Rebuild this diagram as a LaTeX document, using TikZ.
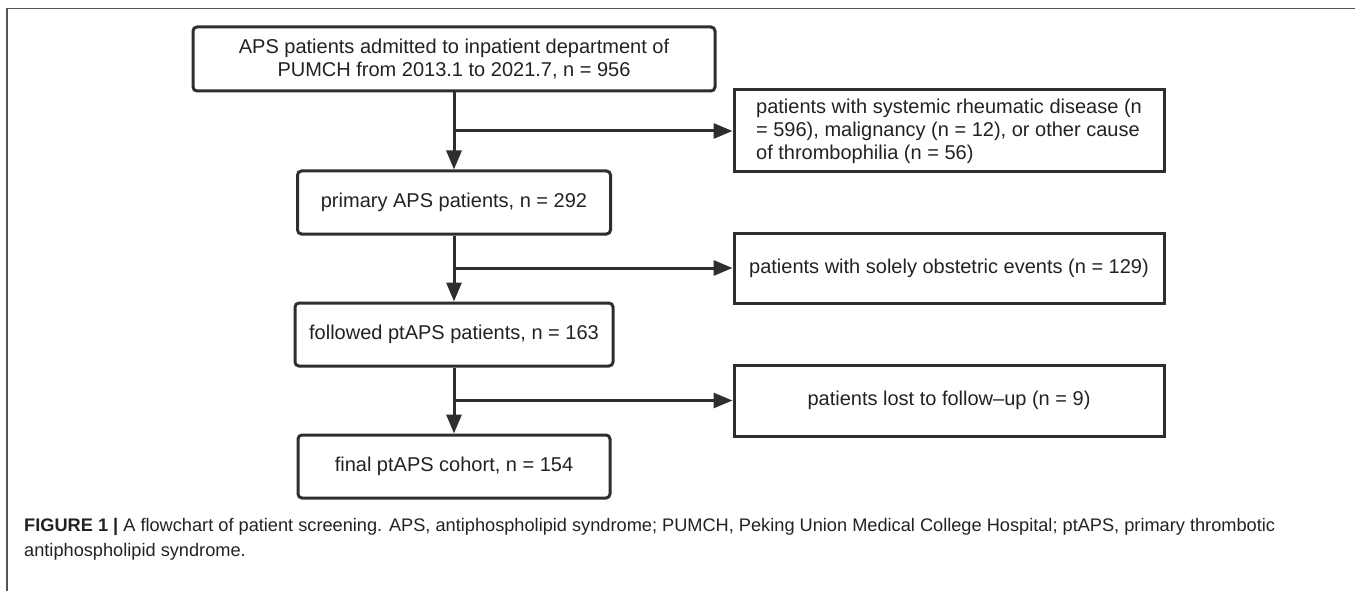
\documentclass[tikz,border=0pt]{standalone}
\usepackage{fontspec}
\setmainfont{Liberation Sans}
\usetikzlibrary{arrows.meta}
\definecolor{boxline}{HTML}{2E2E2E}
\definecolor{boxtext}{HTML}{222222}
\definecolor{framecol}{HTML}{555555}
\tikzset{
  leftbox/.style={draw=boxline, line width=3pt, rounded corners=4pt, minimum height=63pt,
    align=center, text=boxtext, font=\fontsize{20}{23}\selectfont, inner sep=0pt},
  rightbox/.style={draw=boxline, line width=3pt, minimum width=430pt,
    text=boxtext, font=\fontsize{20}{23}\selectfont, inner sep=0pt},
  flowarrow/.style={draw=boxline, line width=3pt, -{Triangle[length=19pt,width=15pt]}},
}
\begin{document}
\begin{tikzpicture}[x=1pt,y=-1pt]
\useasboundingbox (0,0) rectangle (1355,591);
% frame
\draw[framecol, line width=1.4pt] (1355,8.5) -- (7,8.5) -- (7,591);
% left column
\node[leftbox, minimum width=522pt, minimum height=64pt] (top) at (454,59)
  {APS patients admitted to inpatient department of\\PUMCH from 2013.1 to 2021.7, n = 956};
\node[leftbox, minimum width=313pt] (b2) at (454,202.5) {primary APS patients, n = 292};
\node[leftbox, minimum width=318pt] (b3) at (454,334.5) {followed ptAPS patients, n = 163};
\node[leftbox, minimum width=312pt] (b4) at (454,466.5) {final ptAPS cohort, n = 154};
% right column
\node[rightbox, minimum height=82pt, align=left] (r1) at (949,131)
  {patients with systemic rheumatic disease (n\\= 596), malignancy (n = 12), or other cause\\of thrombophilia (n = 56)};
\node[rightbox, minimum height=70pt, align=center] (r2) at (949,268)
  {patients with solely obstetric events (n = 129)};
\node[rightbox, minimum height=71pt, align=center] (r3) at (949,400.5)
  {patients lost to follow–up (n = 9)};
% connectors
\coordinate (j1) at (top.south |- r1.west);
\coordinate (j2) at (b2.south |- r2.west);
\coordinate (j3) at (b3.south |- r3.west);
\draw[flowarrow] (top.south) -- (b2.north);
\draw[flowarrow] (j1) -- (r1.west);
\draw[flowarrow] (b2.south) -- (b3.north);
\draw[flowarrow] (j2) -- (r2.west);
\draw[flowarrow] (b3.south) -- (b4.north);
\draw[flowarrow] (j3) -- (r3.west);
% caption
\node[anchor=base west, align=left, inner sep=0pt, text=boxtext,
  font=\fontsize{18.2}{25}\selectfont] (cap) at (24,556)
  {\textbf{FIGURE 1 |} A flowchart of patient screening. APS, antiphospholipid syndrome; PUMCH, Peking Union Medical College Hospital; ptAPS, primary thrombotic\\antiphospholipid syndrome.};
\end{tikzpicture}
\end{document}
